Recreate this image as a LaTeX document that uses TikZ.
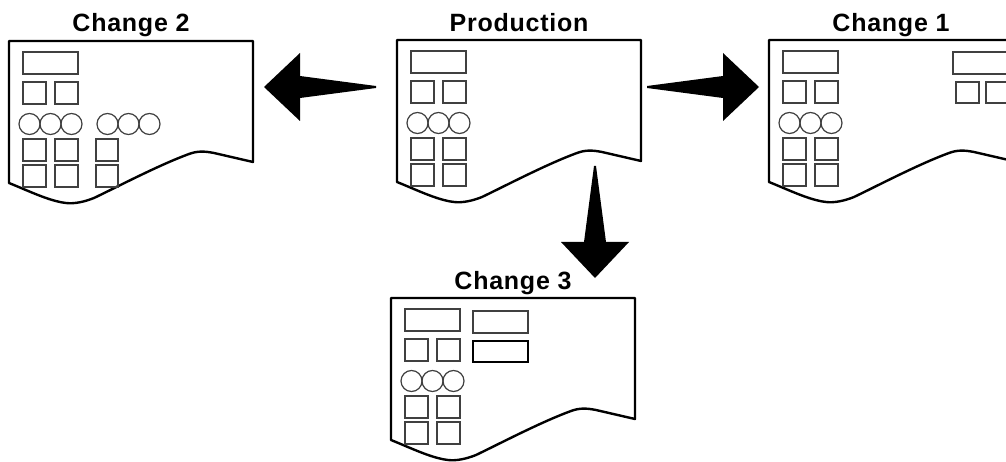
\documentclass[tikz,border=0pt]{standalone}
\usepackage{fontspec}
\newfontfamily\titlefont{Liberation Sans}[LetterSpace = 3]
\usetikzlibrary{
    calc
}
\definecolor{keygray}{gray}{0.25}
\tikzset {
    page line/.style = {line width = 2.4pt, line join = round},
    key/.style = {draw = keygray, line width = 1.2pt},
    heavy key/.style = {draw = black, line width = 1.9pt},
    title/.style = {
        anchor = base,
        inner sep = 0pt,
        font = \titlefont\bfseries\fontsize{25}{29}\selectfont
    },
}

% torn-off sheet, origin at its top left corner
\newcommand{\sheet}[1]{
    \draw [page line, shift = {(#1)}]
        (0, 0) -- (244, 0) -- (244, 121) -- (205, 112)
        .. controls (195, 110) and (188, 110) .. (180, 113)
        .. controls (150, 124) and (110, 145) .. (85, 157)
        .. controls (75, 161) and (65, 163) .. (57, 162)
        .. controls (40, 160) and (20, 150) .. (0, 142) -- cycle;
}
% the basic set of keys on a sheet
\newcommand{\keypad}{
    \draw [key] (14, 11) rectangle (69, 33);
    \draw [key] (14, 41) rectangle (37, 63);
    \draw [key] (46, 41) rectangle (69, 63);
    \foreach \x in {20.5, 41.5, 62.5}
        \draw [key] (\x, 83) circle (10.5pt);
    \foreach \y in {98, 124} {
        \draw [key] (14, \y) rectangle ++(23, 22);
        \draw [key] (46, \y) rectangle ++(23, 22);
    }
}
% tapered block arrow from #1 to #2
\newcommand{\fatarrow}[2]{
    \coordinate (ah) at ($(#2)!36pt!(#1)$);
    \fill ($(#1)!1pt!90:(#2)$) -- ($(ah)!11pt!90:(#2)$) -- ($(ah)!34pt!90:(#2)$)
        -- (#2)
        -- ($(ah)!34pt!-90:(#2)$) -- ($(ah)!11pt!-90:(#2)$) -- ($(#1)!1pt!-90:(#2)$)
        -- cycle;
}

\begin{document}
\begin{tikzpicture}[x = 1pt, y = -1pt]
    \useasboundingbox (0, 0) rectangle (1006, 462);
    \clip (0, 0) rectangle (1006, 462);

    \coordinate (c2)   at (  9,  41);
    \coordinate (prod) at (397,  40);
    \coordinate (c1)   at (769,  40);
    \coordinate (c3)   at (391, 298);

    \node [title] (c2 title)   at ([shift = {(122, -9)}]c2)   {Change 2};
    \node [title] (prod title) at ([shift = {(122, -8)}]prod) {Production};
    \node [title] (c1 title)   at ([shift = {(122, -8)}]c1)   {Change 1};
    \node [title] (c3 title)   at ([shift = {(122, -8)}]c3)   {Change 3};

    \sheet{prod}
    \begin{scope}[shift = {(prod)}]
        \keypad
    \end{scope}

    \sheet{c2}
    \begin{scope}[shift = {(c2)}]
        \keypad
        \foreach \x in {98.5, 119.5, 140.5}
            \draw [key] (\x, 83) circle (10.5pt);
        \draw [key] (87,  98) rectangle ++(22, 22);
        \draw [key] (87, 124) rectangle ++(22, 22);
    \end{scope}

    \sheet{c1}
    \begin{scope}[shift = {(c1)}]
        \keypad
        \draw [key] (184, 12) rectangle ++(56, 22);
        \draw [key] (187, 42) rectangle ++(23, 21);
        \draw [key] (217, 42) rectangle ++(23, 21);
    \end{scope}

    \sheet{c3}
    \begin{scope}[shift = {(c3)}]
        \keypad
        \draw [key]       (82, 13) rectangle ++(55, 22);
        \draw [heavy key] (82, 43) rectangle ++(55, 21);
    \end{scope}

    % arrow ends
    \coordinate (prod w) at (376,  87);
    \coordinate (c2 e)   at (264,  87);
    \coordinate (prod e) at (647,  87);
    \coordinate (c1 w)   at (759,  87);
    \coordinate (prod s) at (595, 166);
    \coordinate (c3 n)   at (595, 278);

    \fatarrow{prod w}{c2 e}
    \fatarrow{prod e}{c1 w}
    \fatarrow{prod s}{c3 n}
\end{tikzpicture}
\end{document}
